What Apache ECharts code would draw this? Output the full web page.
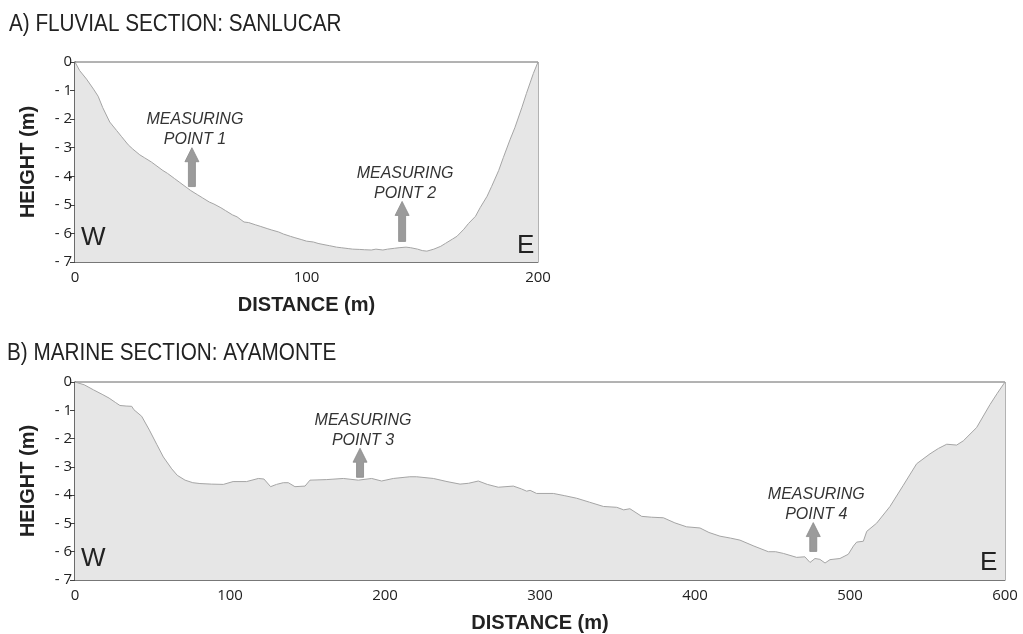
<!DOCTYPE html>
<html>
<head>
<meta charset="utf-8">
<script src="https://cdn.jsdelivr.net/npm/echarts@6/dist/echarts.min.js"></script>
<style>
html, body { margin: 0; padding: 0; background: #fff; }
#main { width: 1023px; height: 634px; }
</style>
</head>
<body>
<div id="main"></div>
<script>
// A) fluvial section, Sanlucar
var sanlucarX = [0, 2, 5, 8, 10, 12, 15, 18, 20, 23, 25, 28, 30, 33, 35, 38, 40, 43, 45, 48, 50, 53, 55, 58, 60, 63, 65, 68, 70, 73, 75, 78, 80, 83, 85, 88, 90, 93, 95, 98, 100, 103, 105, 108, 110, 113, 115, 118, 120, 123, 125, 128, 130, 133, 135, 138, 140, 143, 145, 148, 150, 152, 155, 158, 160, 163, 165, 168, 170, 173, 175, 178, 180, 183, 185, 188, 190, 193, 195, 198, 200];
var sanlucarH = [0, -0.3, -0.6, -0.95, -1.2, -1.6, -2.1, -2.4, -2.6, -2.9, -3.05, -3.25, -3.35, -3.5, -3.62, -3.8, -3.9, -4.08, -4.2, -4.38, -4.5, -4.65, -4.75, -4.9, -4.97, -5.1, -5.2, -5.35, -5.42, -5.6, -5.62, -5.7, -5.75, -5.83, -5.88, -5.95, -6.02, -6.1, -6.15, -6.22, -6.27, -6.3, -6.35, -6.4, -6.43, -6.48, -6.5, -6.53, -6.55, -6.56, -6.57, -6.58, -6.55, -6.58, -6.55, -6.52, -6.5, -6.48, -6.5, -6.55, -6.6, -6.62, -6.55, -6.45, -6.35, -6.2, -6.1, -5.85, -5.65, -5.4, -5.1, -4.7, -4.35, -3.8, -3.35, -2.7, -2.3, -1.6, -1.1, -0.4, 0];

// B) marine section, Ayamonte
var ayamonteX = [0, 6, 12, 18, 22, 26, 29, 33, 36.6, 38, 43, 48, 52.7, 57, 62.4, 66, 71, 76, 80.6, 88, 95.7, 102, 110.7, 118.3, 121.9, 126.2, 130, 134.4, 137.6, 141.9, 148.4, 151.6, 162.4, 173.1, 182.8, 191.4, 197.8, 205.4, 216, 220.4, 231.2, 240, 248.4, 254, 260.2, 266, 273.1, 282.8, 288, 291.4, 293.6, 297.8, 308.6, 316, 323.7, 332, 340.9, 349.5, 354, 358, 365.6, 372, 379.6, 387, 394.6, 403.2, 409, 416.1, 423, 429, 438, 447.3, 452, 457, 465.6, 470.9, 474.2, 477.4, 480.6, 483.9, 487.1, 493.5, 498.9, 502.2, 504.3, 508.6, 510.8, 517.2, 525.8, 534.4, 543, 551.6, 557, 562.4, 568.8, 573.1, 581.7, 590.3, 595, 600];
var ayamonteH = [0, -0.1, -0.28, -0.45, -0.57, -0.72, -0.83, -0.85, -0.86, -0.98, -1.21, -1.7, -2.2, -2.65, -3.07, -3.3, -3.47, -3.56, -3.59, -3.61, -3.62, -3.52, -3.52, -3.41, -3.43, -3.7, -3.62, -3.56, -3.56, -3.7, -3.68, -3.47, -3.45, -3.41, -3.47, -3.41, -3.5, -3.41, -3.35, -3.35, -3.41, -3.52, -3.61, -3.58, -3.5, -3.62, -3.72, -3.68, -3.78, -3.86, -3.83, -3.94, -3.94, -4.02, -4.11, -4.25, -4.4, -4.43, -4.52, -4.48, -4.75, -4.78, -4.8, -4.98, -5.12, -5.16, -5.32, -5.45, -5.52, -5.59, -5.8, -6.0, -6.0, -6.06, -6.2, -6.18, -6.38, -6.24, -6.27, -6.4, -6.28, -6.24, -6.09, -5.8, -5.66, -5.63, -5.28, -4.99, -4.4, -3.65, -2.89, -2.54, -2.35, -2.2, -2.23, -2.08, -1.61, -0.8, -0.4, 0];

// measuring points: x, arrow base height, arrow tip height
var measureNames = ['POINT 1', 'POINT 2', 'POINT 3', 'POINT 4'];
var measureX = [50.5, 141.3, 183.9, 476.3];
var measureBase = [-4.36, -6.28, -3.37, -5.99];
var measureTip = [-3.0, -4.88, -2.34, -4.97];
var measureSection = [0, 0, 1, 1];

function pairs(xs, ys) {
	var arr = [];
	xs.forEach(function(x, i) {
		arr.push([x, ys[i]]);
	});
	return arr;
}

function arrowData(section) {
	var arr = [];
	measureX.forEach(function(x, i) {
		if(measureSection[i] == section) {
			arr.push([x, measureBase[i], measureTip[i], i]);
		}
	});
	return arr;
}

function renderArrow(params, api) {
	var b = api.coord([api.value(0), api.value(1)]);
	var t = api.coord([api.value(0), api.value(2)]);
	var hh = 14; // head height
	var name = measureNames[api.value(3)];
	return {
		type: 'group',
		children: [{
			type: 'polygon',
			shape: {
				points: [
					[b[0] - 3.5, b[1]], [b[0] - 3.5, t[1] + hh], [b[0] - 7, t[1] + hh],
					[b[0], t[1]], [b[0] + 7, t[1] + hh], [b[0] + 3.5, t[1] + hh], [b[0] + 3.5, b[1]]
				]
			},
			style: { fill: '#9b9b9b', stroke: '#8a8a8a', lineWidth: 0.8 }
		}, {
			type: 'text',
			x: b[0] + 3,
			y: t[1] + 2,
			style: {
				text: 'MEASURING\n' + name,
				align: 'center',
				verticalAlign: 'bottom',
				font: 'italic 16px "Liberation Sans", Arial, sans-serif',
				lineHeight: 20,
				fill: '#333'
			}
		}]
	};
}

var nameFont = { fontFamily: '"Liberation Sans", Arial, sans-serif', fontSize: 20, fontWeight: 'bold', color: '#222' };

function makeX(idx, max) {
	return {
		type: 'value',
		gridIndex: idx,
		min: 0,
		max: max,
		interval: 100,
		name: 'DISTANCE (m)',
		nameLocation: 'middle',
		nameGap: 33,
		nameTextStyle: nameFont,
		axisLine: { show: true, onZero: false, lineStyle: { color: '#777', width: 1 } },
		axisTick: { show: false },
		axisLabel: { margin: 8, fontFamily: '"Open Sans", sans-serif', fontSize: 15, color: '#222' },
		splitLine: { show: false }
	};
}

function makeY(idx) {
	return {
		type: 'value',
		gridIndex: idx,
		min: -7,
		max: 0,
		interval: 1,
		name: 'HEIGHT (m)',
		nameLocation: 'middle',
		nameGap: 37,
		nameTextStyle: nameFont,
		axisLine: { show: true, lineStyle: { color: '#555', width: 1.5 } },
		axisTick: { show: true, length: 5, lineStyle: { color: '#444' } },
		axisLabel: {
			margin: 3,
			fontFamily: '"Open Sans", sans-serif',
			fontSize: 15,
			color: '#222',
			formatter: function(v) {
				return v == 0 ? '0' : '- ' + Math.abs(v);
			}
		},
		splitLine: { show: false }
	};
}

var profileLine = { color: '#a5a5a5', width: 1 };
var profileArea = { color: '#e6e6e6', opacity: 1, origin: 'start' };
var titleFont = '23px "Liberation Sans", Arial, sans-serif';
var letterFont = '26px "Liberation Sans", Arial, sans-serif';

var chart = echarts.init(document.getElementById('main'));
chart.setOption({
	animation: false,
	grid: [{
		left: 75, top: 62, width: 463, height: 200,
		show: true, borderColor: '#666', borderWidth: 1, backgroundColor: 'transparent'
	}, {
		left: 75, top: 382, width: 930, height: 201,
		show: true, borderColor: '#666', borderWidth: 1, backgroundColor: 'transparent'
	}],
	xAxis: [makeX(0, 200), makeX(1, 600)],
	yAxis: [makeY(0), makeY(1)],
	graphic: [
		{ type: 'text', z: 100, x: 9, y: 13, scaleX: 0.9, style: { text: 'A) FLUVIAL SECTION: SANLUCAR', font: titleFont, fill: '#222' } },
		{ type: 'text', z: 100, x: 7, y: 342, scaleX: 0.9, style: { text: 'B) MARINE SECTION: AYAMONTE', font: titleFont, fill: '#222' } },
		{ type: 'text', z: 100, x: 81, y: 225, style: { text: 'W', font: letterFont, fill: '#222' } },
		{ type: 'text', z: 100, x: 517, y: 233, style: { text: 'E', font: letterFont, fill: '#222' } },
		{ type: 'text', z: 100, x: 81, y: 546, style: { text: 'W', font: letterFont, fill: '#222' } },
		{ type: 'text', z: 100, x: 980, y: 550, style: { text: 'E', font: letterFont, fill: '#222' } }
	],
	series: [{
		name: 'Sanlucar',
		type: 'line',
		xAxisIndex: 0,
		yAxisIndex: 0,
		symbol: 'none',
		lineStyle: profileLine,
		areaStyle: profileArea,
		data: pairs(sanlucarX, sanlucarH),
		z: 1
	}, {
		name: 'Ayamonte',
		type: 'line',
		xAxisIndex: 1,
		yAxisIndex: 1,
		symbol: 'none',
		lineStyle: profileLine,
		areaStyle: profileArea,
		data: pairs(ayamonteX, ayamonteH),
		z: 1
	}, {
		name: 'measureA',
		type: 'custom',
		xAxisIndex: 0,
		yAxisIndex: 0,
		renderItem: renderArrow,
		data: arrowData(0),
		z: 3
	}, {
		name: 'measureB',
		type: 'custom',
		xAxisIndex: 1,
		yAxisIndex: 1,
		renderItem: renderArrow,
		data: arrowData(1),
		z: 3
	}]
});
</script>
</body>
</html>
